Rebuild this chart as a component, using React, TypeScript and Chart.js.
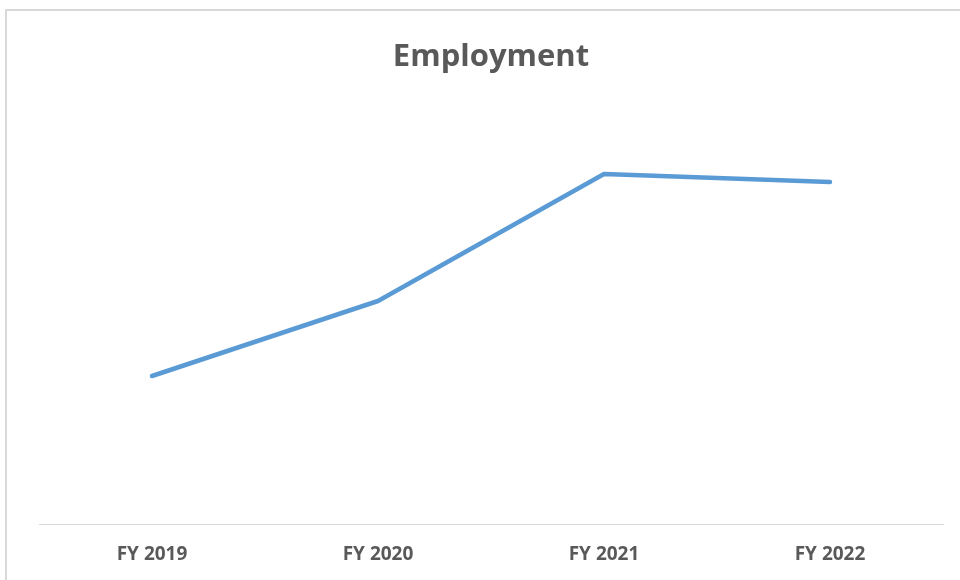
import React, { useEffect, useRef } from "react";
import { Chart, registerables } from "chart.js";

Chart.register(...registerables);

const categories = ["FY 2019", "FY 2020", "FY 2021", "FY 2022"];
const employment = [1480, 2230, 3500, 3420];
const yMin = 0;
const yMax = 4240;
const titleText = "Employment";

export default function App() {
  const canvasRef = useRef<HTMLCanvasElement | null>(null);

  useEffect(() => {
    if (!canvasRef.current) return;
    const chart = new Chart(canvasRef.current, {
      type: "line",
      data: {
        labels: categories,
        datasets: [
          {
            label: "Employment",
            data: employment,
            borderColor: "#5b9bd5",
            backgroundColor: "#5b9bd5",
            borderWidth: 4.5,
            pointRadius: 0,
            pointHoverRadius: 0,
            tension: 0,
            borderCapStyle: "round",
            borderJoinStyle: "round",
            fill: false,
          },
        ],
      },
      options: {
        responsive: false,
        animation: false,
        layout: { padding: { left: 39, right: 17, top: 0, bottom: 0 } },
        plugins: {
          legend: { display: false },
          tooltip: { enabled: false },
          title: {
            display: true,
            text: titleText,
            color: "#595959",
            font: { family: "'Open Sans'", size: 31, weight: "bold", lineHeight: 1.2 },
            padding: { top: 38.4, bottom: 24.4 },
          },
        },
        scales: {
          x: {
            offset: true,
            grid: { display: false, drawTicks: false },
            border: { display: true, color: "#d9d9d9", width: 1 },
            ticks: {
              color: "#595959",
              padding: 19,
              font: { family: "'Open Sans'", size: 19, weight: "bold", lineHeight: 1.2 },
            },
            afterFit: (scale: any) => {
              scale.height = 56;
            },
          },
          y: {
            display: false,
            min: yMin,
            max: yMax,
          },
        },
      },
    });
    return () => chart.destroy();
  }, []);

  return (
    <div style={{ position: "fixed", left: 0, top: 0, width: 960, height: 580, background: "#ffffff", overflow: "hidden" }}>
      <div
        style={{
          position: "absolute",
          left: 5,
          top: 9,
          width: 1000,
          height: 700,
          border: "2px solid #d9d9d9",
          boxSizing: "border-box",
        }}
      />
      <canvas ref={canvasRef} width={960} height={580} style={{ position: "absolute", left: 0, top: 0 }} />
    </div>
  );
}
